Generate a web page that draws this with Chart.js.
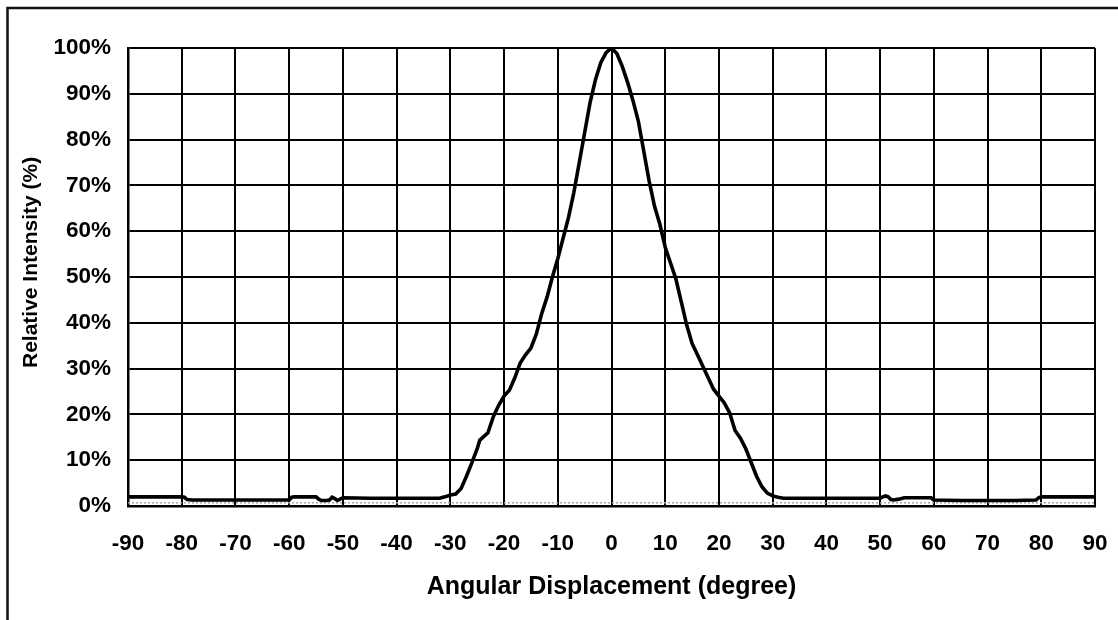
<!DOCTYPE html>
<html>
<head>
<meta charset="utf-8">
<title>Relative Intensity vs Angular Displacement</title>
<script src="https://cdn.jsdelivr.net/npm/chart.js@4.4.1/dist/chart.umd.min.js"></script>
<style>
  html, body { margin: 0; padding: 0; background: #fff; }
  #wrap { position: relative; width: 1118px; height: 620px; }
</style>
</head>
<body>
<div id="wrap"><canvas id="beamChart" width="1118" height="620"></canvas></div>
<script>
// Angular displacement (degree) of each sample
const angles = [
  -90, -85, -80, -79.5, -79, -78, -70, -65, -60, -59.5, -59, -55, -54.5, -54,
  -53, -52.5, -52, -51.5, -51, -50.5, -50, -45, -40, -35, -32, -31, -30, -29,
  -28, -27, -26, -25, -24.5, -23, -22, -21, -20, -19, -18, -17, -16, -15, -14,
  -13, -12, -11, -10, -9, -8, -7, -6, -5, -4, -3, -2, -1, 0, 1, 2, 3, 4, 5, 6,
  7, 8, 9, 10, 11, 12, 13, 14, 15, 16, 17, 18, 19, 20, 21, 22, 23, 24, 25, 26,
  27, 28, 29, 30, 31, 32, 40, 45, 50, 50.5, 51, 51.5, 52, 52.5, 53.5, 54.5,
  59.5, 60, 65, 70, 75, 79, 79.5, 80, 85, 90
];

// Relative intensity (%) at each angle
const intensity = [
  2.0, 2.0, 2.0, 1.9, 1.4, 1.3, 1.3, 1.3, 1.3, 1.9, 2.0, 2.0, 1.5, 1.2,
  1.2, 1.3, 1.9, 1.6, 1.2, 1.5, 1.8, 1.7, 1.7, 1.7, 1.7, 2.0, 2.4, 2.6,
  3.8, 6.5, 9.4, 12.5, 14.4, 16.0, 19.5, 22.0, 24.0, 25.3, 28.0, 31.2, 33.0, 34.5, 37.5,
  42.0, 45.6, 50.0, 54.0, 58.5, 63.0, 68.5, 75.0, 81.5, 88.0, 93.0, 96.8, 99.0, 100, 98.8, 96.0, 92.5, 88.5, 84.0, 77.5,
  71.0, 65.5, 61.5, 56.5, 53.0, 49.5, 44.5, 39.5, 35.5, 33.0, 30.5, 28.0, 25.5, 24.0, 22.5, 20.3, 16.5, 14.8, 12.5, 9.5,
  6.5, 4.2, 2.8, 2.2, 1.9, 1.7, 1.7, 1.7, 1.7, 2.0, 2.2, 2.0, 1.4, 1.3, 1.5, 1.8,
  1.8, 1.3, 1.2, 1.2, 1.2, 1.3, 1.8, 2.0, 2.0, 2.0
];

// Faint dotted floor line just above the axis
const floorAngles = [-90, 90];
const floorLevel = [0.7, 0.7];

// Tick labels
const xTicks = [-90, -80, -70, -60, -50, -40, -30, -20, -10, 0, 10, 20, 30, 40, 50, 60, 70, 80, 90];
const yTicks = [0, 10, 20, 30, 40, 50, 60, 70, 80, 90, 100];

const FONT = "'Liberation Sans', Arial, Helvetica, sans-serif";

/**
 * Outer frame: the picture only has a left and a top rule
 */
const framePlugin = {
  id: 'frame',
  afterDraw(chart) {
    const ctx = chart.ctx;
    ctx.save();
    ctx.strokeStyle = '#111';
    ctx.lineWidth = 2.5;
    ctx.beginPath();
    ctx.moveTo(7.5, 620);
    ctx.lineTo(7.5, 8);
    ctx.lineTo(1118, 8);
    ctx.stroke();
    ctx.restore();
  }
};

const toPoints = (xs, ys) => xs.map((x, i) => ({ x: x, y: ys[i] }));

new Chart(document.getElementById('beamChart'), {
  type: 'line',
  data: {
    datasets: [
      {
        label: 'Relative intensity',
        data: toPoints(angles, intensity),
        borderColor: '#000',
        borderWidth: 3.6,
        pointRadius: 0,
        tension: 0,
        fill: false,
        order: 0
      },
      {
        label: 'Floor',
        data: toPoints(floorAngles, floorLevel),
        borderColor: '#a8a8a8',
        borderWidth: 1.5,
        borderDash: [2, 2],
        pointRadius: 0,
        fill: false,
        order: 1
      }
    ]
  },
  options: {
    responsive: false,
    animation: false,
    layout: { padding: { left: 0, top: 48, right: 23, bottom: 0 } },
    plugins: {
      legend: { display: false },
      tooltip: { enabled: false }
    },
    scales: {
      x: {
        type: 'linear',
        min: -90,
        max: 90,
        afterBuildTicks: (scale) => { scale.ticks = xTicks.map(v => ({ value: v })); },
        afterFit: (scale) => {
          scale.height = 114;
          scale.paddingLeft = 0;
          scale.paddingRight = 0;
        },
        grid: { color: '#000', lineWidth: 2, drawTicks: false },
        border: { color: '#000', width: 2.5 },
        ticks: {
          color: '#000',
          padding: 24,
          maxRotation: 0,
          font: { family: FONT, size: 22.5, weight: 'bold' },
          callback: (v) => String(v)
        },
        title: {
          display: true,
          text: 'Angular Displacement (degree)',
          color: '#000',
          font: { family: FONT, size: 25, weight: 'bold' },
          padding: { top: 0, bottom: 18 }
        }
      },
      y: {
        type: 'linear',
        min: 0,
        max: 100,
        afterBuildTicks: (scale) => { scale.ticks = yTicks.map(v => ({ value: v })); },
        afterFit: (scale) => { scale.width = 128; },
        grid: { color: '#000', lineWidth: 2, drawTicks: false },
        border: { color: '#000', width: 2.5 },
        ticks: {
          color: '#000',
          padding: 17,
          font: { family: FONT, size: 22.5, weight: 'bold' },
          callback: (v) => v + '%'
        },
        title: {
          display: true,
          // leading spaces nudge the rotated title upward like the original
          text: '\u00a0\u00a0\u00a0\u00a0\u00a0Relative Intensity (%)',
          color: '#000',
          font: { family: FONT, size: 21, weight: 'bold' },
          padding: { top: 19, bottom: 0 }
        }
      }
    }
  },
  plugins: [framePlugin]
});
</script>
</body>
</html>
